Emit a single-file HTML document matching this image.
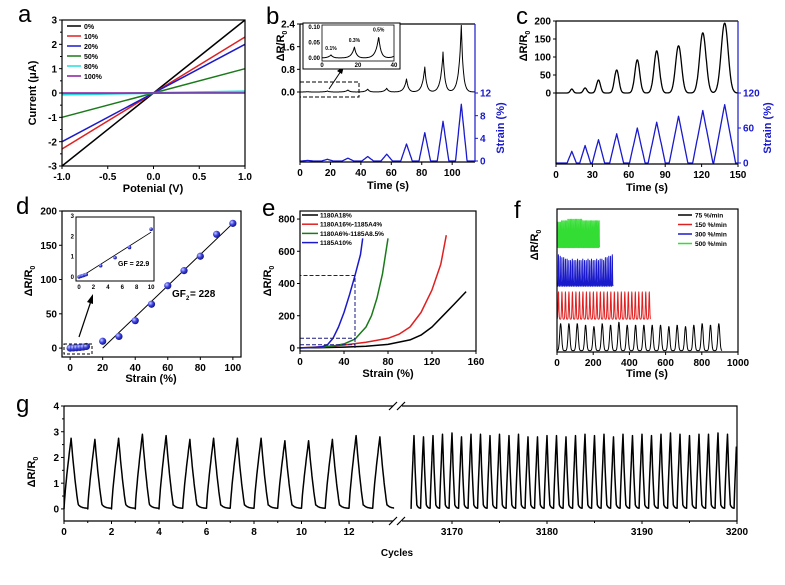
<!DOCTYPE html>
<html><head><meta charset="utf-8"><style>
html,body{margin:0;padding:0;background:#fff;}
svg{display:block;font-family:"Liberation Sans",Arial,sans-serif;}
</style></head><body>
<svg id="fig" width="785" height="585" viewBox="0 0 785 585" xmlns="http://www.w3.org/2000/svg">
<defs><radialGradient id="ball" cx="0.35" cy="0.35" r="0.7"><stop offset="0" stop-color="#c8ccff"/><stop offset="0.5" stop-color="#3a3fe0"/><stop offset="1" stop-color="#10127a"/></radialGradient></defs>
</svg>
<script>
// ---------- data ----------
const aLabels=['0%','10%','20%','50%','80%','100%'];
const aSlopes=[3,2.3,2,1,0.06,0];
const aColors=['#000','#e02020','#1a1acc','#1a7a1a','#22dddd','#8a1a9a'];
const aXTicks=[-1,-0.5,0,0.5,1];
const aXTickLabels=['-1.0','-0.5','0.0','0.5','1.0'];
const aYTicks=[-3,-2,-1,0,1,2,3];

const bTimes=[5,18,31.5,44.5,57,70,82,94,106];
const bStrain=[0.1,0.3,0.5,0.8,1.2,3,5,7,10];
const bResp=[0.01,0.035,0.07,0.1,0.13,0.46,0.88,1.41,2.35];
const bXTicks=[0,20,40,60,80,100];
const bYTicks=[0,0.8,1.6,2.4];
const bYTickLabels=['0.0','0.8','1.6','2.4'];
const bStrainTicks=[0,4,8,12];

const cTimes=[13,24,35,50,67,83,101,121,139];
const cStrain=[20,30,40,50,60,70,80,90,100];
const cResp=[11,14,36,64,92,117,131,167,194];
const cXTicks=[0,30,60,90,120,150];
const cYTicks=[0,50,100,150,200];
const cStrainTicks=[0,60,120];

const dStrain=[0,2,4,6,8,10,20,30,40,50,60,70,80,90,100];
const dResp=[0,0.2,0.5,1,1.5,2.4,10,17,40,64,91,113,134,166,182];
const dInStrain=[0,0.2,0.4,0.6,0.8,1,3,5,7,10];
const dInResp=[0,0.03,0.05,0.07,0.1,0.12,0.55,0.95,1.45,2.35];
const dXTicks=[0,20,40,60,80,100];
const dYTicks=[0,50,100,150,200];

const eLabels=['1180A18%','1180A16%-1185A4%','1180A6%-1185A8.5%','1185A10%'];
const eColors=['#000','#e02020','#1a7a1a','#1a1acc'];
const eBlackX=[0,20,40,60,80,100,110,120,130,140,151];
const eBlackY=[0,2,5,10,22,50,80,130,200,270,350];
const eRedX=[0,20,40,60,80,90,100,110,120,128,133];
const eRedY=[0,8,18,35,60,85,130,220,360,520,700];
const eGreenX=[0,20,30,40,50,60,65,70,75,80];
const eGreenY=[0,5,12,25,55,130,200,310,460,680];
const eBlueX=[0,10,20,25,30,35,40,45,50,55,57];
const eBlueY=[0,2,8,20,60,130,220,330,450,580,680];
const eXTicks=[0,40,80,120,160];
const eYTicks=[0,200,400,600,800];

const fLabels=['75  %/min','150 %/min','300 %/min','500 %/min'];
const fColors=['#000','#e02020','#1a1acc','#33dd33'];
const fStart=[20,8,8,5];
const fPeriod=[46,19.3,9.6,6.9];
const fOffsets=[1,23,46,73];
const fBlackAmp=[19,19,19,18,17,19,18,20,18,18,18,18,18,17,18,17,18,19,18,19];
const fRedAmp=[19,19,19,19,19,19,19,19,19,19,19,19,19,19,19,19,19,19,19,19,19,19,19,19,19,19,19];
const fBlueAmp=[22,21,20,20,19,19,18,18,19,18,18,19,18,18,19,18,18,19,18,19,18,18,19,18,19,19,18,20,20,21,21,22];
const fGreenAmp=[18,18,18,19,19,19,19,19,20,20,20,20,20,20,20,20,20,20,20,20,19,19,19,19,19,19,19,19,19,19,19,19,19,19];
const fXTicks=[0,200,400,600,800,1000];

const gLeftPeaks=[2.75,2.7,2.75,2.9,2.85,2.7,2.75,2.75,2.75,2.65,2.65,2.7,2.85,2.8];
const gRightPeaks=[2.85,2.8,2.85,2.9,2.95,2.8,2.9,2.9,2.85,2.9,2.85,2.9,2.8,2.8,2.85,2.85,2.8,2.85,2.9,2.85,2.9,2.8,2.9,2.85,2.9,2.85,2.9,2.95,2.9,2.85,2.9,2.9,2.95,2.9];
const gLeftTicks=[0,2,4,6,8,10,12];
const gRightTicks=[3170,3180,3190,3200];
const gYTicks=[0,1,2,3,4];

// ---------- helpers ----------
const NS='http://www.w3.org/2000/svg';
const svg=document.getElementById('fig');
function mk(tag,attrs,name,parent){
  const e=document.createElementNS(NS,tag);
  for(const k in attrs)e.setAttribute(k,attrs[k]);
  
  
  (parent||svg).appendChild(e);return e;
}
function sc(d0,d1,p0,p1){return v=>p0+(v-d0)*(p1-p0)/(d1-d0);}
function txt(x,y,s,name,o){o=o||{};
  const t=mk('text',{x:x,y:y,'font-size':o.size||10,'font-weight':o.weight||'bold','text-anchor':o.anchor||'middle',fill:o.fill||'#000'},name);
  if(o.rot)t.setAttribute('transform','rotate(-90 '+x+' '+y+')');
  t.textContent=s;return t;}
function drTitle(x,y,name,size){
  const t=mk('text',{x:x,y:y,'font-size':size||11,'font-weight':'bold','text-anchor':'middle',transform:'rotate(-90 '+x+' '+y+')'},name);
  const a=document.createElementNS(NS,'tspan');a.textContent='ΔR/R';t.appendChild(a);
  const b=document.createElementNS(NS,'tspan');b.setAttribute('font-size',(size||11)*0.65);b.setAttribute('dy','3');b.textContent='0';t.appendChild(b);}
function path(pts,name,o){o=o||{};
  let d='';pts.forEach((p,i)=>{d+=(i?'L':'M')+p[0].toFixed(1)+','+p[1].toFixed(1);});
  return mk('path',{d:d,fill:'none',stroke:o.stroke||'#000','stroke-width':o.w||1.2,'stroke-dasharray':o.dash||'none','stroke-linejoin':'round'},name);}
function frame(x0,y0,x1,y1,name){mk('rect',{x:x0,y:y0,width:x1-x0,height:y1-y0,fill:'none',stroke:'#000','stroke-width':1.2},name);}
function xTicks(sx,vals,labels,yb,name,fs,len){
  vals.forEach((v,i)=>{const x=sx(v);
    mk('line',{x1:x,y1:yb,x2:x,y2:yb+(len||3),stroke:'#000','stroke-width':1},name+'-tick');
    txt(x,yb+(len||3)+(fs||10)+1,labels?labels[i]:String(v),name+'-label',{size:fs||10});});}
function yTicks(sy,vals,labels,xl,name,o){o=o||{};const dir=o.right?1:-1;const len=o.len||3;
  vals.forEach((v,i)=>{const y=sy(v);
    mk('line',{x1:xl,y1:y,x2:xl+dir*len,y2:y,stroke:o.fill||'#000','stroke-width':1},name+'-tick');
    txt(xl+dir*(len+2),y+(o.size||10)*0.36,labels?labels[i]:String(v),name+'-label',{size:o.size||10,anchor:o.right?'start':'end',fill:o.fill||'#000'});});}
function letter(x,y,s,name){txt(x,y,s,name,{size:24,weight:'normal',anchor:'start'});}

// ---------- panel a ----------
(function(){
  const sx=sc(-1,1,62,245), sy=sc(-3,3,166,20);
  letter(18,22,'a','panel-a-letter');
  aSlopes.forEach((s,i)=>{path([[sx(-1),sy(-s)],[sx(1),sy(s)]],'iv-line-'+aLabels[i],{stroke:aColors[i],w:i==4?2.2:1.5});});
  frame(62,20,245,166,'panel-a-frame');
  xTicks(sx,aXTicks,aXTickLabels,166,'a-x',10);
  yTicks(sy,aYTicks,null,62,'a-y',{});
  for(let v=-2.5;v<3;v+=1)mk('line',{x1:62,y1:sy(v),x2:60,y2:sy(v),stroke:'#000'},'a-y-minor');
  txt(153,192,'Potenial (V)','a-x-title',{size:11});
  txt(36,93,'Current (μA)','a-y-title',{size:11,rot:1});
  aLabels.forEach((l,i)=>{const y=26+i*10;
    mk('line',{x1:67,y1:y,x2:81,y2:y,stroke:aColors[i],'stroke-width':1.5},'a-legend-line');
    txt(84,y+3,l,'a-legend-label',{size:7,anchor:'start'});});
})();

// ---------- panel b ----------
(function(){
  const sx=sc(0,115,300,475), sy=sc(0,2.4,92,24), sr=sc(0,12,161,93);
  letter(266,24,'b','panel-b-letter');
  const resp=[],str=[];
  for(let t=0;t<=115;t+=0.25){let r=0,s=0;
    bTimes.forEach((tp,i)=>{r+=bResp[i]*Math.exp(-Math.abs(t-tp)/(t<tp?1.6:1.2));s+=Math.max(0,bStrain[i]*(1-Math.abs(t-tp)/3.8));});
    resp.push([sx(t),sy(r)]);str.push([sx(t),sr(s)]);}
  path(resp,'b-response-line',{w:1});
  path(str,'b-strain-line',{stroke:'#1a1acc',w:1.3});
  mk('line',{x1:300,y1:24,x2:475,y2:24,stroke:'#000','stroke-width':1.2},'b-top-spine');
  mk('line',{x1:300,y1:24,x2:300,y2:162,stroke:'#000','stroke-width':1.2},'b-left-spine');
  mk('line',{x1:300,y1:162,x2:475,y2:162,stroke:'#000','stroke-width':1.2},'b-bottom-spine');
  mk('line',{x1:475,y1:24,x2:475,y2:162,stroke:'#1a1acc','stroke-width':1.2},'b-right-spine');
  xTicks(sx,bXTicks,null,162,'b-x',10);
  yTicks(sy,bYTicks,bYTickLabels,300,'b-y',{});
  yTicks(sr,bStrainTicks,null,475,'b-strain',{right:1,fill:'#1a1acc'});
  txt(388,189,'Time (s)','b-x-title',{size:11});
  drTitle(284,46,'b-y-title',11);
  txt(504,128,'Strain (%)','b-strain-title',{size:11,rot:1,fill:'#1a1acc'});
  mk('rect',{x:300,y:82,width:59,height:15,fill:'none',stroke:'#000','stroke-width':1,'stroke-dasharray':'4,2'},'b-zoom-box');
  mk('line',{x1:329,y1:89,x2:341,y2:71,stroke:'#000','stroke-width':1},'b-arrow-shaft');
  mk('polygon',{points:'344,66 337,71 342,74',fill:'#000'},'b-arrow-head');
  mk('rect',{x:303,y:23,width:97,height:46,fill:'#fff',stroke:'#000','stroke-width':1},'b-inset-frame');
  const ix=sc(0,40,322,394), iy=sc(0,0.1,58,27);
  const ins=[];
  for(let t=0;t<=40;t+=0.2){let r=0;bTimes.forEach((tp,i)=>{r+=bResp[i]*Math.exp(-Math.abs(t-tp)/(t<tp?1.6:1.2));});ins.push([ix(t),iy(r)]);}
  path(ins,'b-inset-line',{w:1});
  mk('rect',{x:322,y:25,width:72,height:36,fill:'none',stroke:'#000','stroke-width':0.8},'b-inset-axes');
  [0,20,40].forEach(v=>{txt(ix(v),67,String(v),'b-inset-x-label',{size:6});});
  [[0,'0.00'],[0.05,'0.05'],[0.1,'0.10']].forEach(p=>{txt(320,iy(p[0])+2,p[1],'b-inset-y-label',{size:6,anchor:'end'});});
  [['0.1%',5],['0.3%',18],['0.5%',31.5]].forEach((p,i)=>{txt(ix(p[1]),iy(bResp[i])-5,p[0],'b-inset-annotation',{size:5});});
})();

// ---------- panel c ----------
(function(){
  const sx=sc(0,150,556,738), sy=sc(0,200,93,21), sr=sc(0,120,163,93);
  letter(516,24,'c','panel-c-letter');
  const resp=[],str=[];
  for(let t=0;t<=150;t+=0.25){let r=0,s=0;
    cTimes.forEach((tp,i)=>{const hw=2.5+cStrain[i]*0.065;r+=cResp[i]*Math.exp(-Math.pow((t-tp)/(hw*0.45),2));s+=Math.max(0,cStrain[i]*(1-Math.abs(t-tp)/hw));});
    resp.push([sx(t),sy(r)]);str.push([sx(t),sr(s)]);}
  path(resp,'c-response-line',{w:1.3});
  path(str,'c-strain-line',{stroke:'#1a1acc',w:1.3});
  mk('line',{x1:556,y1:21,x2:738,y2:21,stroke:'#000','stroke-width':1.2},'c-top-spine');
  mk('line',{x1:556,y1:21,x2:556,y2:164,stroke:'#000','stroke-width':1.2},'c-left-spine');
  mk('line',{x1:556,y1:164,x2:738,y2:164,stroke:'#000','stroke-width':1.2},'c-bottom-spine');
  mk('line',{x1:738,y1:21,x2:738,y2:164,stroke:'#1a1acc','stroke-width':1.2},'c-right-spine');
  xTicks(sx,cXTicks,null,164,'c-x',10);
  yTicks(sy,cYTicks,null,556,'c-y',{});
  yTicks(sr,cStrainTicks,null,738,'c-strain',{right:1,fill:'#1a1acc'});
  txt(647,191,'Time (s)','c-x-title',{size:11});
  drTitle(527,46,'c-y-title',11);
  txt(771,128,'Strain (%)','c-strain-title',{size:11,rot:1,fill:'#1a1acc'});
})();

// ---------- panel d ----------
(function(){
  const sx=sc(-5,105,62,241), sy=sc(-13,200,357,211);
  letter(16,214,'d','panel-d-letter');
  frame(62,211,241,357,'panel-d-frame');
  path([[sx(20),sy(0)],[sx(100),sy(182)]],'d-fit-line',{w:1});
  dStrain.forEach((s,i)=>{mk('circle',{cx:sx(s),cy:sy(dResp[i]),r:3.6,fill:'url(#ball)'},'d-point');});
  xTicks(sx,dXTicks,null,357,'d-x',10);
  yTicks(sy,dYTicks,null,62,'d-y',{});
  txt(151,382,'Strain (%)','d-x-title',{size:11});
  drTitle(32,281,'d-y-title',11);
  txt(172,297,'GF','d-gf2-label',{size:10,anchor:'start'});
  txt(186,300,'2','d-gf2-sub',{size:6,anchor:'start'});
  txt(190,297,'= 228','d-gf2-value',{size:10,anchor:'start'});
  mk('rect',{x:64,y:344,width:28,height:10,fill:'none',stroke:'#000','stroke-width':1,'stroke-dasharray':'3,2'},'d-zoom-box');
  mk('line',{x1:79,y1:337,x2:91,y2:301,stroke:'#000','stroke-width':1.2},'d-arrow-shaft');
  mk('polygon',{points:'93,294 87,302 93,304',fill:'#000'},'d-arrow-head');
  const ix=sc(-0.42,10.4,76,154), iy=sc(-0.2,2.95,281,217);
  mk('rect',{x:76,y:217,width:78,height:64,fill:'#fff',stroke:'#000','stroke-width':1},'d-inset-frame');
  path([[ix(0),iy(-0.05)],[ix(10),iy(2.2)]],'d-inset-fit',{w:0.8});
  dInStrain.forEach((s,i)=>{mk('circle',{cx:ix(s),cy:iy(dInResp[i]),r:1.8,fill:'url(#ball)'},'d-inset-point');});
  [0,2,4,6,8,10].forEach(v=>{txt(ix(v),289,String(v),'d-inset-x-label',{size:6});});
  [0,1,2,3].forEach(v=>{txt(74,iy(v)+2,String(v),'d-inset-y-label',{size:6,anchor:'end'});});
  txt(118,266,'GF = 22.9','d-gf1-label',{size:7,anchor:'start'});
})();

// ---------- panel e ----------
(function(){
  const sx=sc(0,160,300,476), sy=sc(-19,850,351,211);
  letter(262,216,'e','panel-e-letter');
  [[eBlackX,eBlackY],[eRedX,eRedY],[eGreenX,eGreenY],[eBlueX,eBlueY]].forEach((s,i)=>{
    path(s[0].map((x,j)=>[sx(x),sy(s[1][j])]),'e-curve-'+eLabels[i],{stroke:eColors[i],w:1.5});});
  mk('path',{d:'M'+sx(50)+','+sy(0)+'V'+sy(450)+'H'+sx(0)+'M'+sx(0)+','+sy(60)+'H'+sx(50)+'M'+sx(0)+','+sy(20)+'H'+sx(50),fill:'none',stroke:'#1a1a80','stroke-width':1,'stroke-dasharray':'4,2'},'e-guide-lines');
  frame(300,211,476,351,'panel-e-frame');
  xTicks(sx,eXTicks,null,351,'e-x',10);
  yTicks(sy,eYTicks,null,300,'e-y',{});
  txt(388,377,'Strain (%)','e-x-title',{size:11});
  drTitle(271,281,'e-y-title',11);
  eLabels.forEach((l,i)=>{const y=215+i*9.2;
    mk('line',{x1:302,y1:y,x2:318,y2:y,stroke:eColors[i],'stroke-width':1.5},'e-legend-line');
    txt(320,y+2.5,l,'e-legend-label',{size:6.5,anchor:'start'});});
})();

// ---------- panel f ----------
(function(){
  const sx=sc(0,1000,557,738), sy=sc(0,100,352,209);
  letter(514,218,'f','panel-f-letter');
  const amps=[fBlackAmp,fRedAmp,fBlueAmp,fGreenAmp];
  amps.forEach((A,k)=>{const P=fPeriod[k],end=fStart[k]+P*(A.length-1)+P*0.4;const pts=[];
    for(let t=0;t<=end;t+=P/24){let v=0;A.forEach((a,i)=>{const tp=fStart[k]+i*P;v+=a*Math.exp(-Math.pow((t-tp)/(P*0.16),2));});
      pts.push([sx(t),sy(fOffsets[k]+v)]);}
    path(pts,'f-trace-'+fLabels[k],{stroke:fColors[k],w:1});});
  frame(557,209,738,352,'panel-f-frame');
  xTicks(sx,fXTicks,null,352,'f-x',10);
  txt(647,377,'Time (s)','f-x-title',{size:11});
  drTitle(538,245,'f-y-title',11);
  fLabels.forEach((l,i)=>{const y=215+i*9.5;
    mk('line',{x1:678,y1:y,x2:692,y2:y,stroke:fColors[i],'stroke-width':1.5},'f-legend-line');
    txt(695,y+2.5,l,'f-legend-label',{size:6.5,anchor:'start'});});
})();

// ---------- panel g ----------
(function(){
  const sl=sc(0,12,64,349), sr=sc(3170,3200,452,737), sy=sc(-0.47,4,521,406);
  letter(16,412,'g','panel-g-letter');
  function shape(p,a){ if(p<0.3)return a*Math.pow(p/0.3,0.8);
    if(p<0.6)return 0.15+(a-0.15)*(1-(p-0.3)/0.3)*(1-0.3*(p-0.3)/0.3);
    return 0.15*Math.exp(-(p-0.6)*8)+0.02;}
  const L=[];for(let t=0;t<=13.9;t+=0.02){const n=Math.floor(t);L.push([sl(t),sy(shape(t-n,gLeftPeaks[Math.min(n,gLeftPeaks.length-1)]))]);}
  path(L,'g-left-trace',{w:1.5});
  const R=[];for(let t=3165.7;t<=3199.95;t+=0.02){const n=Math.floor(t-3165.7);R.push([sr(t),sy(shape(t-3165.7-n,gRightPeaks[Math.min(n,gRightPeaks.length-1)]))]);}
  path(R,'g-right-trace',{w:1.5});
  mk('path',{d:'M64,406H393M64,406V521H393M402,406H737V521H402',fill:'none',stroke:'#000','stroke-width':1.2},'g-frame');
  mk('path',{d:'M389,410L397,402M397,410L405,402M389,525L397,517M397,525L405,517',fill:'none',stroke:'#000','stroke-width':1.2},'g-axis-break');
  xTicks(sl,gLeftTicks,null,521,'g-x-left',10);
  xTicks(sr,gRightTicks,null,521,'g-x-right',10);
  [1,3,5,7,9,11,13].forEach(v=>mk('line',{x1:sl(v),y1:521,x2:sl(v),y2:523,stroke:'#000'},'g-x-minor'));
  [3175,3185,3195].forEach(v=>mk('line',{x1:sr(v),y1:521,x2:sr(v),y2:523,stroke:'#000'},'g-x-minor'));
  yTicks(sy,gYTicks,null,64,'g-y',{});
  for(let v=0.5;v<4;v+=1)mk('line',{x1:64,y1:sy(v),x2:62,y2:sy(v),stroke:'#000'},'g-y-minor');
  txt(397,556,'Cycles','g-x-title',{size:10});
  drTitle(35,472,'g-y-title',11);
})();
</script>
</body></html>
